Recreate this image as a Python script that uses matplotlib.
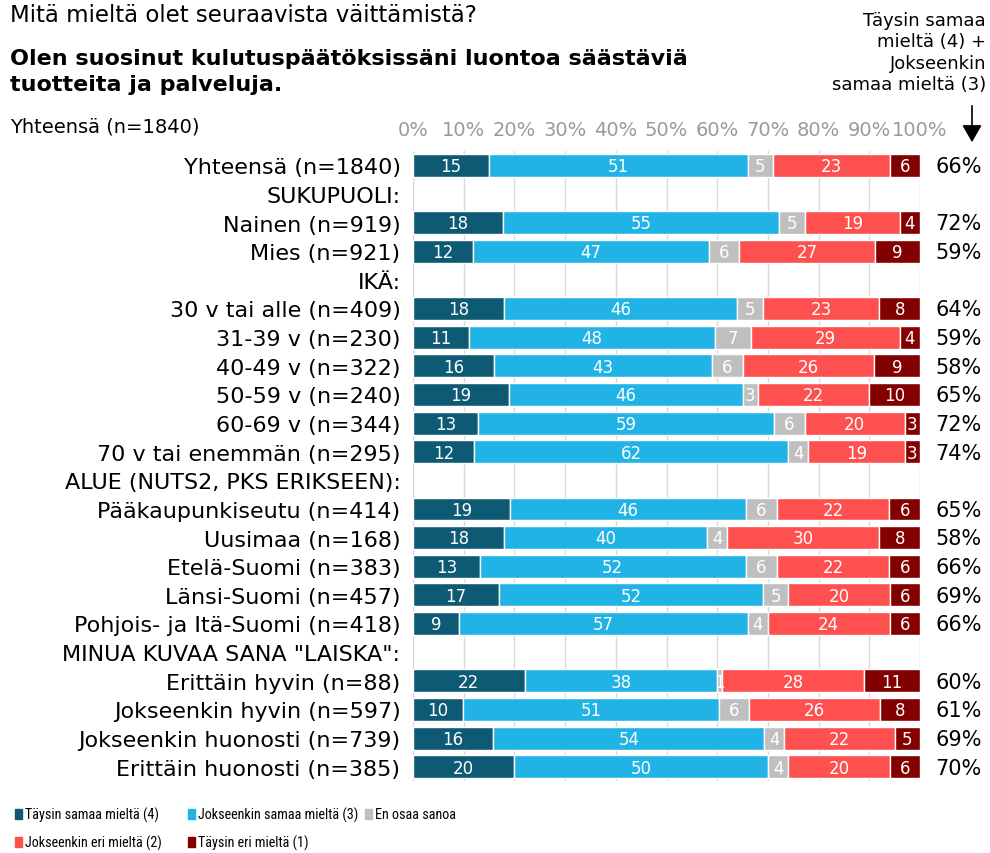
import matplotlib
matplotlib.use("Agg")
import matplotlib.pyplot as plt
from matplotlib.patches import Rectangle, FancyArrowPatch
from matplotlib import font_manager
import numpy as np

plt.rcParams['font.family'] = ['DejaVu Sans']

rows = ["Yhteensä (n=1840)", "SUKUPUOLI:", "Nainen (n=919)", "Mies (n=921)", "IKÄ:",
        "30 v tai alle (n=409)", "31-39 v (n=230)", "40-49 v (n=322)", "50-59 v (n=240)",
        "60-69 v (n=344)", "70 v tai enemmän (n=295)", "ALUE (NUTS2, PKS ERIKSEEN):",
        "Pääkaupunkiseutu (n=414)", "Uusimaa (n=168)", "Etelä-Suomi (n=383)",
        "Länsi-Suomi (n=457)", "Pohjois- ja Itä-Suomi (n=418)", 'MINUA KUVAA SANA "LAISKA":',
        "Erittäin hyvin (n=88)", "Jokseenkin hyvin (n=597)", "Jokseenkin huonosti (n=739)",
        "Erittäin huonosti (n=385)"]

# None = header row (no bar)
taysin_samaa = [15, None, 18, 12, None, 18, 11, 16, 19, 13, 12, None, 19, 18, 13, 17, 9, None, 22, 10, 16, 20]
jokseenkin_samaa = [51, None, 55, 47, None, 46, 48, 43, 46, 59, 62, None, 46, 40, 52, 52, 57, None, 38, 51, 54, 50]
en_osaa = [5, None, 5, 6, None, 5, 7, 6, 3, 6, 4, None, 6, 4, 6, 5, 4, None, 1, 6, 4, 4]
jokseenkin_eri = [23, None, 19, 27, None, 23, 29, 26, 22, 20, 19, None, 22, 30, 22, 20, 24, None, 28, 26, 22, 20]
taysin_eri = [6, None, 4, 9, None, 8, 4, 9, 10, 3, 3, None, 6, 8, 6, 6, 6, None, 11, 8, 5, 6]
samaa_yht = ["66%", None, "72%", "59%", None, "64%", "59%", "58%", "65%", "72%", "74%", None,
             "65%", "58%", "66%", "69%", "66%", None, "60%", "61%", "69%", "70%"]

series_names = ["Täysin samaa mieltä (4)", "Jokseenkin samaa mieltä (3)", "En osaa sanoa",
                "Jokseenkin eri mieltä (2)", "Täysin eri mieltä (1)"]
colors = ["#0e5a75", "#21b3e6", "#bfbfbf", "#ff5050", "#820000"]
series = [taysin_samaa, jokseenkin_samaa, en_osaa, jokseenkin_eri, taysin_eri]
ticks = [0, 10, 20, 30, 40, 50, 60, 70, 80, 90, 100]

# pick a condensed font for the legend if one is installed
avail = {(f.name, f.stretch) for f in font_manager.fontManager.ttflist}
names = {f.name for f in font_manager.fontManager.ttflist}
leg_font = dict(family=['DejaVu Sans'], fontsize=9.0)
leg_cols = (15, 205, 420)
for cand in ['Liberation Sans Narrow', 'Roboto Condensed', 'Open Sans Condensed', 'DejaVu Sans Condensed']:
    if cand in names:
        leg_font = dict(family=[cand, 'DejaVu Sans'], fontsize=10.2)
        leg_cols = (15, 188, 365)
        break
else:
    if ('DejaVu Sans', 'condensed') in avail or ('DejaVu Sans', 'semi-condensed') in avail:
        st = 'condensed' if ('DejaVu Sans', 'condensed') in avail else 'semi-condensed'
        leg_font = dict(family=['DejaVu Sans'], fontsize=10, fontstretch=st)
        leg_cols = (15, 195, 390)

fig = plt.figure(figsize=(9.9, 8.54), dpi=100)
ax = fig.add_axes([413/990, 1-782/854, 507/990, (782-152)/854])

n = len(rows)
y = np.arange(n)
for i in range(n):
    if series[0][i] is None:
        continue
    vals = [s[i] for s in series]
    tot = sum(vals)
    left = 0.0
    for k, v in enumerate(vals):
        w = v * 100.0 / tot
        ax.barh(i, w, left=left, height=0.8, color=colors[k], edgecolor='white', linewidth=1.0, zorder=3)
        ax.text(left + w/2, i + 0.03, str(v), ha='center', va='center', color='white', fontsize=12, zorder=4)
        left += w
    ax.text(103.0, i + 0.03, samaa_yht[i], ha='left', va='center', color='black', fontsize=15,
            clip_on=False)

ax.set_xlim(0, 100)
ax.set_ylim(n - 0.5, -0.5)
ax.set_yticks(y)
ax.set_yticklabels(rows, fontsize=16)
ax.tick_params(axis='y', length=0, pad=9)
ax.xaxis.tick_top()
ax.set_xticks(ticks)
ax.set_xticklabels([f"{t}%" for t in ticks], color='#9a9a9a', fontsize=14)
ax.tick_params(axis='x', length=0, pad=9)
ax.grid(axis='x', color='#d9d9d9', linewidth=1, zorder=0)
for s in ax.spines.values():
    s.set_visible(False)

fig.text(10/990, 1-16/854, "Mitä mieltä olet seuraavista väittämistä?", fontsize=16.5, va='center', ha='left')
fig.text(10/990, 1-72/854, "Olen suosinut kulutuspäätöksissäni luontoa säästäviä\ntuotteita ja palveluja.",
         fontsize=16, fontweight='bold', va='center', ha='left', linespacing=1.38)
fig.text(10/990, 1-127/854, "Yhteensä (n=1840)", fontsize=14, va='center', ha='left')
fig.text(986/990, 1-53/854, "Täysin samaa\nmieltä (4) +\nJokseenkin\nsamaa mieltä (3)",
         fontsize=13, ha='right', va='center', linespacing=1.25)
fig.add_artist(FancyArrowPatch((972/990, 1-104/854), (972/990, 1-146/854), transform=fig.transFigure,
                               arrowstyle='-|>,head_length=7,head_width=4', color='black', lw=1.2,
                               mutation_scale=1.5))

# legend
leg_pos = [(leg_cols[0], 815), (leg_cols[1], 815), (leg_cols[2], 815), (leg_cols[0], 843), (leg_cols[1], 843)]
for k, (px, py) in enumerate(leg_pos):
    fig.add_artist(Rectangle((px/990, 1-(py+5)/854), 7/990, 10/854, transform=fig.transFigure,
                             color=colors[k]))
    fig.text((px+10)/990, 1-py/854, series_names[k], va='center', ha='left', **leg_font)

fig.savefig("out.png", dpi=100)
